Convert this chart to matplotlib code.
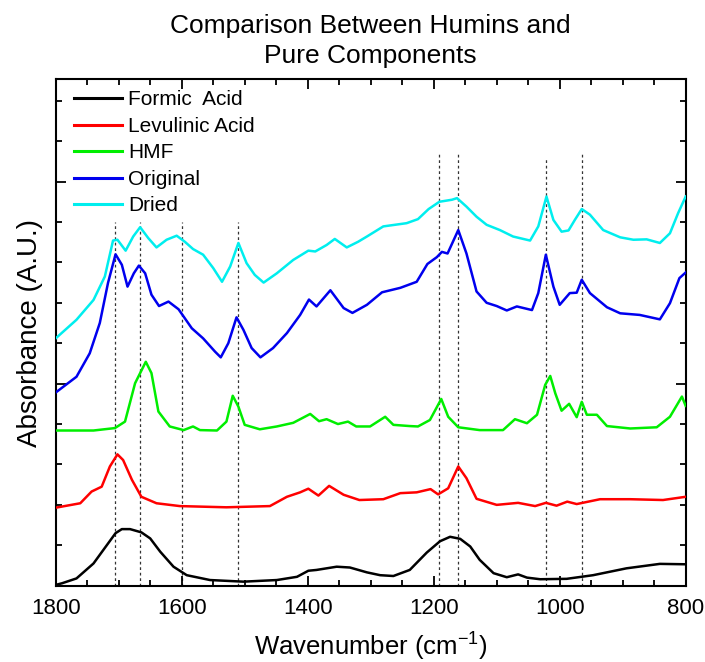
import matplotlib
matplotlib.use("Agg")
import matplotlib.pyplot as plt
from matplotlib import font_manager as fm
from matplotlib.ticker import MultipleLocator

names = {f.name for f in fm.fontManager.ttflist}
REG = "Liberation Sans" if "Liberation Sans" in names else "DejaVu Sans"
plt.rcParams["mathtext.fontset"] = "custom"
plt.rcParams["mathtext.rm"] = REG
plt.rcParams["axes.unicode_minus"] = False

# ---------------- data ----------------
formic_x = [1800, 1790, 1767, 1740, 1719, 1705, 1695, 1682, 1664, 1650, 1634, 1613, 1592, 1555,
            1502, 1449, 1417, 1399, 1386, 1354, 1333, 1306, 1285, 1264, 1238, 1211, 1190, 1174,
            1158, 1142, 1127, 1105, 1084, 1066, 1052, 1031, 989, 947, 894, 841, 800]
formic_y = [0.02, 0.06, 0.18, 0.55, 1.00, 1.30, 1.40, 1.40, 1.32, 1.17, 0.84, 0.47, 0.26, 0.14,
            0.10, 0.14, 0.22, 0.37, 0.39, 0.47, 0.45, 0.33, 0.26, 0.24, 0.39, 0.82, 1.10, 1.21,
            1.16, 0.97, 0.64, 0.31, 0.21, 0.28, 0.20, 0.16, 0.17, 0.26, 0.43, 0.54, 0.53]

levulinic_x = [1800, 1761, 1743, 1735, 1727, 1714, 1702, 1693, 1679, 1664, 1640, 1603, 1529, 1460,
               1433, 1412, 1399, 1383, 1366, 1343, 1318, 1280, 1253, 1227, 1205, 1193, 1177, 1161,
               1148, 1132, 1100, 1066, 1039, 1022, 1005, 988, 973, 936, 888, 836, 800]
levulinic_y = [1.93, 2.04, 2.33, 2.39, 2.45, 2.95, 3.25, 3.11, 2.62, 2.20, 2.04, 1.97, 1.94, 1.97,
               2.20, 2.31, 2.40, 2.23, 2.47, 2.25, 2.12, 2.14, 2.29, 2.31, 2.39, 2.26, 2.41, 2.95,
               2.66, 2.15, 2.00, 2.05, 1.97, 2.05, 1.98, 2.08, 2.02, 2.14, 2.14, 2.12, 2.20]

hmf_x = [1800, 1740, 1706, 1690, 1674, 1657, 1648, 1637, 1619, 1597, 1582, 1571, 1544, 1529, 1519,
         1510, 1500, 1476, 1449, 1423, 1396, 1382, 1370, 1352, 1336, 1323, 1301, 1277, 1264, 1238,
         1225, 1206, 1188, 1177, 1161, 1127, 1090, 1071, 1052, 1036, 1023, 1015, 1007, 997, 985,
         973, 965, 957, 941, 925, 888, 846, 825, 806, 800]
hmf_y = [3.84, 3.84, 3.90, 4.06, 5.01, 5.54, 5.26, 4.31, 3.94, 3.85, 3.94, 3.85, 3.84, 4.06, 4.70,
         4.43, 3.98, 3.87, 3.94, 4.03, 4.25, 4.07, 4.12, 4.00, 4.06, 3.94, 3.94, 4.18, 3.98, 3.95,
         3.94, 4.10, 4.62, 4.18, 3.92, 3.85, 3.85, 4.12, 4.02, 4.23, 4.97, 5.19, 4.76, 4.33, 4.50,
         4.17, 4.55, 4.23, 4.23, 3.95, 3.89, 3.92, 4.18, 4.68, 4.45]

original_x = [1800, 1767, 1746, 1730, 1717, 1705, 1695, 1686, 1676, 1668, 1658, 1648, 1636, 1621,
              1605, 1584, 1566, 1547, 1538, 1526, 1513, 1502, 1489, 1475, 1455, 1433, 1412, 1398,
              1386, 1364, 1343, 1329, 1306, 1282, 1253, 1227, 1210, 1195, 1187, 1178, 1161, 1148,
              1132, 1116, 1100, 1084, 1068, 1044, 1034, 1022, 1010, 1000, 984, 973, 965, 952, 925,
              904, 873, 841, 825, 810, 800]
original_y = [4.78, 5.17, 5.75, 6.50, 7.49, 8.20, 7.94, 7.40, 7.73, 7.92, 7.73, 7.20, 6.92, 7.03,
              6.84, 6.37, 6.12, 5.79, 5.65, 6.00, 6.64, 6.33, 5.88, 5.65, 5.88, 6.25, 6.70, 7.08,
              6.91, 7.31, 6.87, 6.75, 6.95, 7.26, 7.37, 7.52, 7.96, 8.13, 8.26, 8.22, 8.80, 8.22,
              7.28, 7.00, 6.92, 6.81, 6.91, 6.82, 7.24, 8.19, 7.40, 6.95, 7.24, 7.25, 7.57, 7.24, 6.89,
              6.74, 6.70, 6.59, 6.99, 7.61, 7.75]

dried_x = [1800, 1767, 1740, 1722, 1709, 1702, 1689, 1677, 1666, 1653, 1640, 1624, 1608, 1595,
           1582, 1566, 1550, 1536, 1523, 1510, 1497, 1484, 1470, 1449, 1423, 1399, 1388, 1370,
           1357, 1338, 1320, 1306, 1280, 1243, 1225, 1208, 1191, 1171, 1163, 1148, 1132, 1116,
           1095, 1074, 1047, 1034, 1021, 1010, 997, 986, 976, 965, 952, 931, 904, 883, 862, 841,
           825, 812, 800]
dried_y = [6.12, 6.58, 7.07, 7.65, 8.54, 8.56, 8.29, 8.64, 8.87, 8.60, 8.37, 8.56, 8.66, 8.51,
           8.33, 8.19, 7.86, 7.52, 7.90, 8.48, 7.98, 7.69, 7.50, 7.73, 8.06, 8.29, 8.27, 8.43,
           8.58, 8.37, 8.51, 8.64, 8.89, 8.97, 9.07, 9.32, 9.50, 9.55, 9.59, 9.38, 9.13, 8.93,
           8.80, 8.64, 8.54, 8.89, 9.63, 9.05, 8.76, 8.79, 9.05, 9.32, 9.18, 8.80, 8.62, 8.56,
           8.57, 8.48, 8.72, 9.22, 9.63]

series_labels = ["Formic  Acid", "Levulinic Acid", "HMF", "Original", "Dried"]
series_colors = ["#000000", "#ff0000", "#00ee00", "#0000ee", "#00eeee"]

marker_lines = [1706, 1666, 1600, 1511, 1192, 1161, 1022, 964]
marker_tops = [9.0, 9.0, 9.0, 9.0, 10.68, 10.68, 10.59, 10.68]

xticks = [1800, 1600, 1400, 1200, 1000, 800]
title = "Comparison Between Humins and\nPure Components"

# ---------------- figure ----------------
fig = plt.figure(figsize=(7.05, 6.62), dpi=100)
ax = fig.add_axes([55.7 / 705, 1 - 585.7 / 662, 630 / 705, 506.4 / 662])

for mx, top in zip(marker_lines, marker_tops):
    ax.plot([mx, mx], [0, top], color="#333333", lw=0.9, ls=(0, (2.2, 2.2)), zorder=1)

xs = [formic_x, levulinic_x, hmf_x, original_x, dried_x]
ys = [formic_y, levulinic_y, hmf_y, original_y, dried_y]
for x, y, lab, c in zip(xs, ys, series_labels, series_colors):
    ax.plot(x, y, color=c, lw=1.8, label=lab, solid_joinstyle="round", zorder=3)

ax.set_xlim(1800, 800)
ax.set_ylim(0, 12.53)
ax.set_xticks(xticks)
ax.xaxis.set_minor_locator(MultipleLocator(50))
ax.yaxis.set_major_locator(MultipleLocator(5))
ax.yaxis.set_minor_locator(MultipleLocator(1))
ax.tick_params(which="both", direction="in", top=True, right=True, width=1.3)
ax.tick_params(which="major", length=7)
ax.tick_params(which="minor", length=4.3)
ax.tick_params(axis="y", which="both", labelleft=False)
ax.tick_params(axis="x", pad=9)
for lbl in ax.get_xticklabels():
    lbl.set_fontfamily(REG)
    lbl.set_fontsize(16)
for s in ax.spines.values():
    s.set_linewidth(1.5)

ax.set_xlabel("Wavenumber (cm$^{\\mathregular{-1}}$)", fontsize=18.5, family=REG, labelpad=7)
ax.set_ylabel("Absorbance (A.U.)", fontsize=20, family=REG, labelpad=9)
ax.set_title(title, fontsize=19, family=REG, pad=12, linespacing=1.3)

leg = ax.legend(loc="upper left", bbox_to_anchor=(0.029, 0.978), frameon=False,
                prop={"family": REG, "size": 15}, handlelength=2.3, handletextpad=0.3,
                labelspacing=0.36, borderpad=0, borderaxespad=0)
for h in leg.get_lines():
    h.set_linewidth(2.2)

fig.savefig("out.png", dpi=100)
